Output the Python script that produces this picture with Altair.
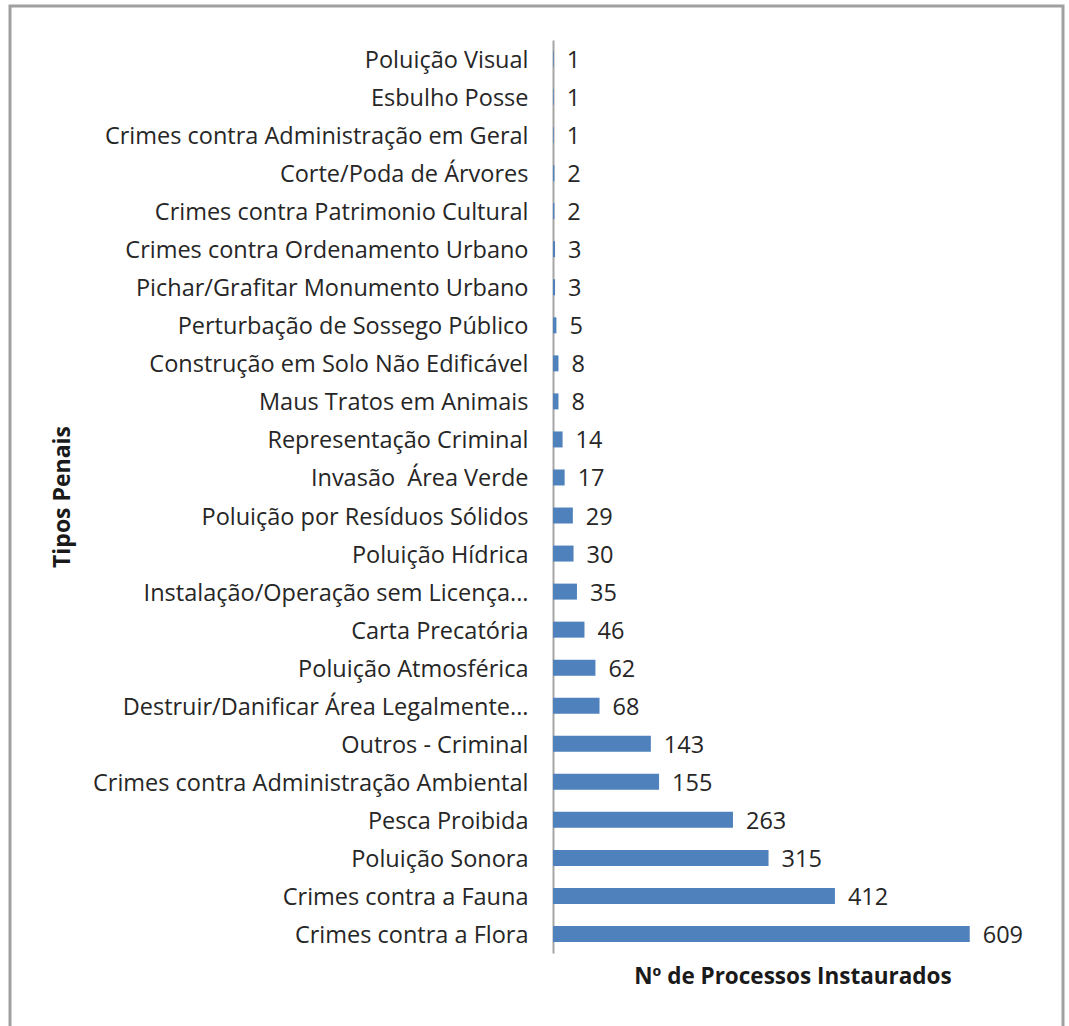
import altair as alt
import pandas as pd

categorias = [
    "Poluição Visual",
    "Esbulho Posse",
    "Crimes contra Administração em Geral",
    "Corte/Poda de Árvores",
    "Crimes contra Patrimonio Cultural",
    "Crimes contra Ordenamento Urbano",
    "Pichar/Grafitar Monumento Urbano",
    "Perturbação de Sossego Público",
    "Construção em Solo Não Edificável",
    "Maus Tratos em Animais",
    "Representação Criminal",
    "Invasão \u00a0Área Verde",
    "Poluição por Resíduos Sólidos",
    "Poluição Hídrica",
    "Instalação/Operação sem Licença...",
    "Carta Precatória",
    "Poluição Atmosférica",
    "Destruir/Danificar Área Legalmente...",
    "Outros - Criminal",
    "Crimes contra Administração Ambiental",
    "Pesca Proibida",
    "Poluição Sonora",
    "Crimes contra a Fauna",
    "Crimes contra a Flora",
]
valores = [1, 1, 1, 2, 2, 3, 3, 5, 8, 8, 14, 17, 29, 30, 35, 46, 62, 68, 143, 155, 263, 315, 412, 609]

df = pd.DataFrame({"tipo": categorias, "n": valores})

FONT = "Open Sans"
W, H = 479, 913
L, T = 553, 40

y_enc = alt.Y(
    "tipo:N",
    sort=categorias,
    scale=alt.Scale(paddingInner=0.58, paddingOuter=0.29),
    axis=alt.Axis(
        title="Tipos Penais",
        titleFont=FONT,
        titleFontSize=23,
        titleFontWeight="bold",
        titleColor="#1a1a1a",
        titleAngle=-90,
        titleBaseline="middle",
        titleAlign="center",
        titleX=62 - L,
        titleY=H / 2,
        labelFont=FONT,
        labelFontSize=23.5,
        labelColor="#262626",
        labelPadding=25,
        labelOffset=2,
        labelLimit=600,
        ticks=False,
        domainColor="#a6a6a6",
        domainWidth=2,
        grid=False,
    ),
)

x_enc = alt.X(
    "n:Q",
    scale=alt.Scale(domain=[0, 700], nice=False),
    axis=alt.Axis(
        title="Nº de Processos Instaurados",
        titleFont=FONT,
        titleFontSize=22.5,
        titleFontWeight="bold",
        titleColor="#1a1a1a",
        titleBaseline="middle",
        titleX=W / 2,
        titleY=23,
        labels=False,
        ticks=False,
        domain=False,
        grid=False,
    ),
)

base = alt.Chart(df)

bars = base.mark_bar(color="#4f81bd").encode(y=y_enc, x=x_enc)

texts = base.mark_text(
    align="left", baseline="middle", dx=13, dy=2, font=FONT, fontSize=23.5, color="#262626"
).encode(y=alt.Y("tipo:N", sort=categorias), x="n:Q", text="n:Q")

frame = alt.Chart(pd.DataFrame({"a": [0]})).mark_rect(
    fill=None, stroke="#a0a0a0", strokeWidth=3
).encode(
    x=alt.value(10 - L), x2=alt.value(1063 - L),
    y=alt.value(6 - T), y2=alt.value(1040 - T),
)

chart = alt.layer(bars, texts, frame).properties(
    width=W,
    height=H,
    autosize=alt.AutoSizeParams(type="none"),
    padding={"left": L, "top": T, "right": 1069 - L - W, "bottom": 1026 - T - H},
    background="white",
).configure_view(stroke=None)

chart.save("out.html", embed_options={"renderer": "svg", "actions": False})
